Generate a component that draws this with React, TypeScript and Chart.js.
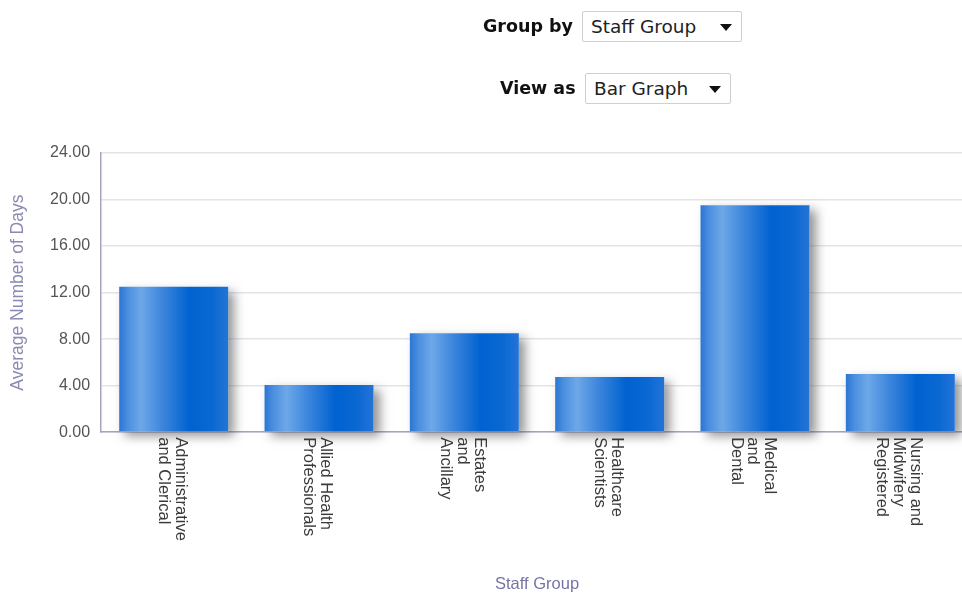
import React, { useEffect, useRef } from "react";
import { Chart, registerables } from "chart.js";

Chart.register(...registerables);

const categories: string[][] = [
  ["Administrative", "and Clerical"],
  ["Allied Health", "Professionals"],
  ["Estates", "and", "Ancillary"],
  ["Healthcare", "Scientists"],
  ["Medical", "and", "Dental"],
  ["Nursing and", "Midwifery", "Registered"],
];
const avgDays: number[] = [12.5, 4.05, 8.5, 4.75, 19.5, 5.0];
const yTicks: number[] = [0, 4, 8, 12, 16, 20, 24];

const BAR_PCT = 0.75;

const shadowPlugin = {
  id: "barShadow",
  beforeDatasetsDraw(chart: any) {
    const ctx = chart.ctx;
    const meta = chart.getDatasetMeta(0);
    ctx.save();
    meta.data.forEach((bar: any) => {
      const { x, y, base, width } = bar.getProps(["x", "y", "base", "width"], true);
      ctx.save();
      ctx.shadowColor = "rgba(60,60,60,0.55)";
      ctx.shadowBlur = 10;
      ctx.shadowOffsetX = 6;
      ctx.shadowOffsetY = 5;
      ctx.fillStyle = "#ffffff";
      ctx.fillRect(x - width / 2, y, width, base - y);
      ctx.restore();
    });
    ctx.restore();
  },
};

const xLabelPlugin = {
  id: "xLabels",
  afterDraw(chart: any) {
    const ctx = chart.ctx;
    const xs = chart.scales.x;
    const top = chart.chartArea.bottom + 5;
    const lineH = 16.8;
    ctx.save();
    ctx.font = "16.5px 'Liberation Sans', Arial, sans-serif";
    ctx.fillStyle = "#3a3a3a";
    ctx.textAlign = "left";
    ctx.textBaseline = "middle";
    categories.forEach((lines, i) => {
      const cx = xs.getPixelForValue(i) - 2;
      const n = lines.length;
      lines.forEach((line, j) => {
        const off = ((n - 1) / 2 - j) * lineH;
        ctx.save();
        ctx.translate(cx + off, top);
        ctx.rotate(Math.PI / 2);
        ctx.fillText(line, 0, 0);
        ctx.restore();
      });
    });
    ctx.restore();
  },
};

function barGradient(context: any) {
  const chart = context.chart;
  const xs = chart.scales?.x;
  if (!chart.chartArea || !xs) return "#1e6fd4";
  const c = xs.getPixelForValue(context.dataIndex);
  const w = (xs.width / categories.length) * BAR_PCT;
  const g = chart.ctx.createLinearGradient(c - w / 2, 0, c + w / 2, 0);
  g.addColorStop(0, "#2a76d4");
  g.addColorStop(0.08, "#4c8fdf");
  g.addColorStop(0.2, "#6da8e8");
  g.addColorStop(0.4, "#3c85dc");
  g.addColorStop(0.65, "#0062d0");
  g.addColorStop(0.85, "#0a68d2");
  g.addColorStop(1, "#2474d6");
  return g;
}

function Select({ left, top, width, text }: { left: number; top: number; width: number; text: string }) {
  return (
    <div
      style={{
        position: "absolute",
        left,
        top,
        width,
        height: 31,
        border: "1px solid #cfcfcf",
        borderRadius: 2,
        background: "#fff",
        boxSizing: "border-box",
        fontFamily: "'DejaVu Sans', Tahoma, sans-serif",
        fontSize: 18.5,
        color: "#222",
        lineHeight: "29px",
        paddingLeft: 8,
        whiteSpace: "nowrap",
      }}
    >
      {text}
      <div
        style={{
          position: "absolute",
          right: 9,
          top: 12,
          width: 0,
          height: 0,
          borderLeft: "6px solid transparent",
          borderRight: "6px solid transparent",
          borderTop: "7px solid #111",
        }}
      />
    </div>
  );
}

const labelStyle: React.CSSProperties = {
  position: "absolute",
  fontFamily: "'DejaVu Sans', Tahoma, sans-serif",
  fontWeight: "bold",
  fontSize: 17.5,
  color: "#111",
  whiteSpace: "nowrap",
};

export default function App() {
  const canvasRef = useRef<HTMLCanvasElement | null>(null);

  useEffect(() => {
    if (!canvasRef.current) return;
    const chart = new Chart(canvasRef.current, {
      type: "bar",
      data: {
        labels: categories.map((c) => c.join(" ")),
        datasets: [
          {
            data: avgDays,
            backgroundColor: barGradient,
            borderWidth: 0,
            barPercentage: BAR_PCT,
            categoryPercentage: 1,
          },
        ],
      },
      options: {
        animation: false,
        responsive: false,
        maintainAspectRatio: false,
        layout: { padding: { top: 153, left: 8, right: 27, bottom: 1 } },
        plugins: { legend: { display: false }, tooltip: { enabled: false } },
        scales: {
          x: {
            grid: { display: false, drawTicks: false },
            border: { color: "#a3a3c2", width: 1.5 },
            ticks: { display: false },
            title: {
              display: true,
              text: "Staff Group",
              color: "#7474a6",
              font: { family: "'Liberation Sans', Arial, sans-serif", size: 16.5 },
              padding: { top: 142, bottom: 0 },
            },
          },
          y: {
            min: 0,
            max: 24,
            afterBuildTicks: (axis: any) => {
              axis.ticks = yTicks.map((v) => ({ value: v }));
            },
            grid: { color: "#e3e3ea", drawTicks: false, lineWidth: 1.5 },
            border: { color: "#a3a3c2", width: 1.5 },
            ticks: {
              color: "#555",
              padding: 11,
              font: { family: "'Liberation Sans', Arial, sans-serif", size: 16 },
              callback: (v: any) => Number(v).toFixed(2),
            },
            title: {
              display: true,
              text: "Average Number of Days",
              color: "#8a8ab2",
              font: { family: "'Liberation Sans', Arial, sans-serif", size: 17.5 },
              padding: { top: 0, bottom: 10 },
            },
          },
        },
      },
      plugins: [shadowPlugin, xLabelPlugin],
    });
    return () => chart.destroy();
  }, []);

  return (
    <div
      style={{
        position: "fixed",
        left: 0,
        top: 0,
        width: 962,
        height: 595,
        overflow: "hidden",
        background: "#fff",
      }}
    >
      <canvas ref={canvasRef} width={1000} height={595} style={{ position: "absolute", left: 0, top: 0 }} />
      <div style={{ ...labelStyle, left: 483, top: 16 }}>Group by</div>
      <Select left={582} top={11} width={160} text="Staff Group" />
      <div style={{ ...labelStyle, left: 500, top: 78 }}>View as</div>
      <Select left={585} top={73} width={146} text="Bar Graph" />
    </div>
  );
}
